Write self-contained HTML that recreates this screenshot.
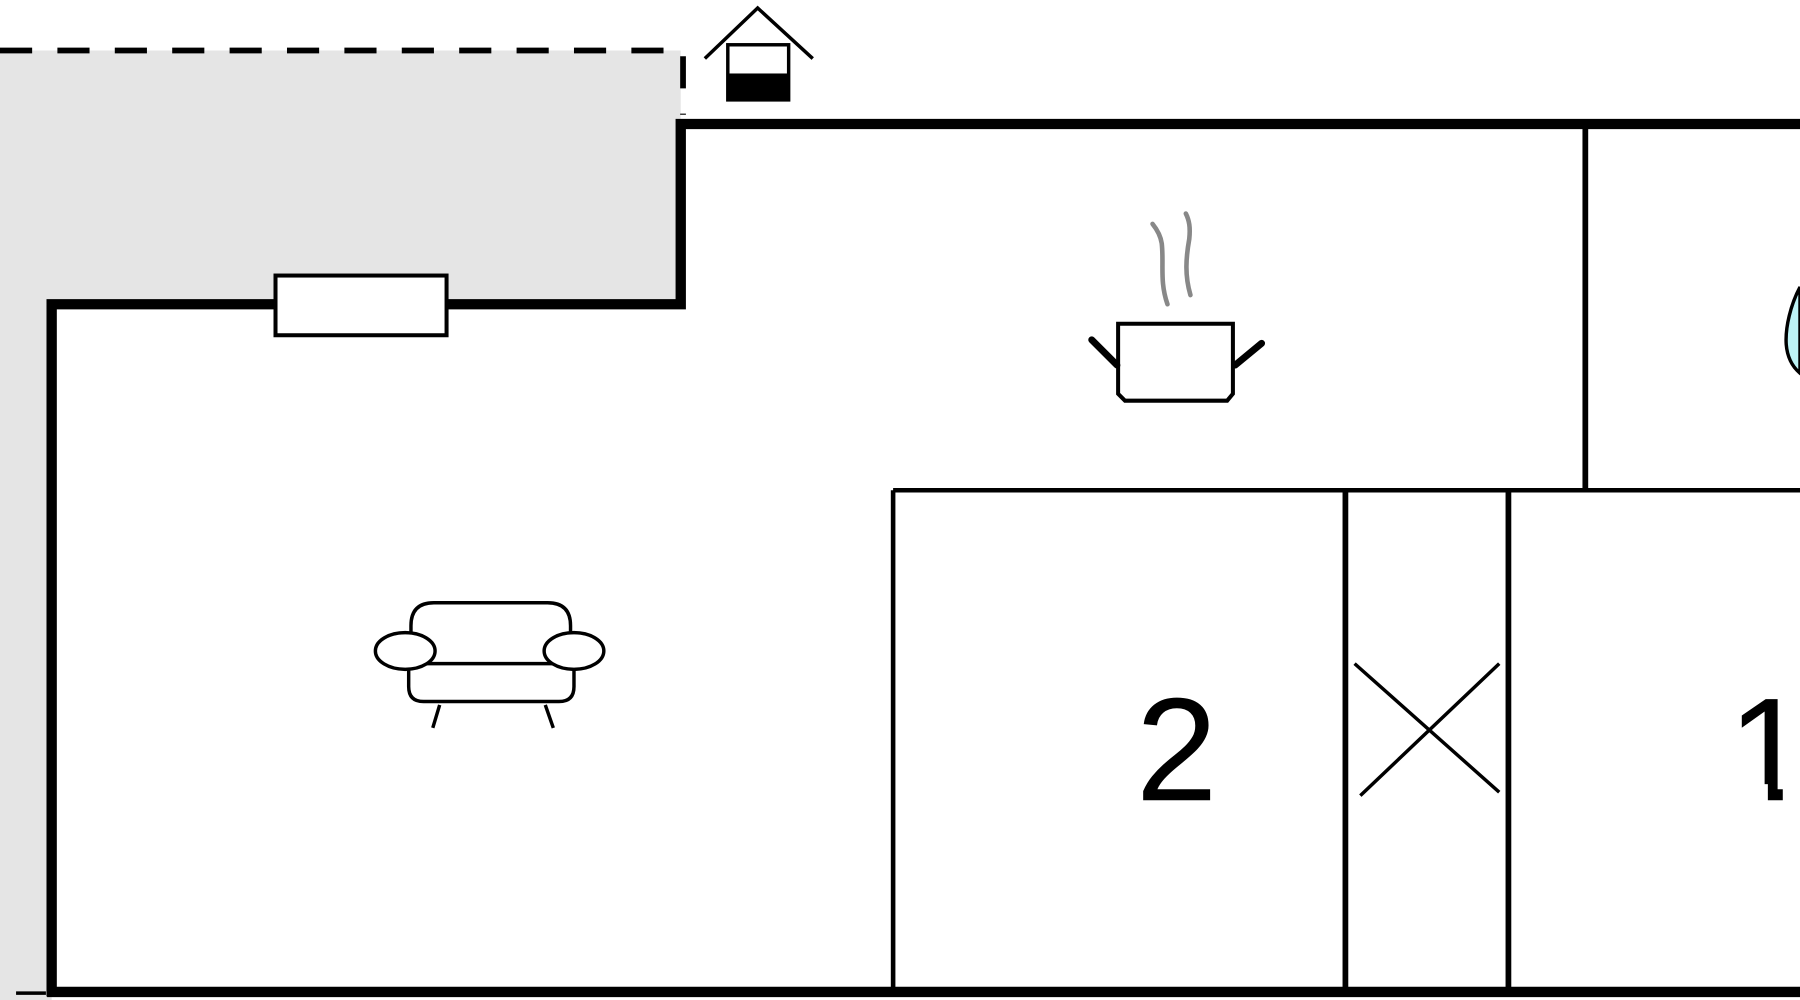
<!DOCTYPE html>
<html><head><meta charset="utf-8"><style>html,body{margin:0;padding:0;background:#fff;width:1800px;height:1000px;overflow:hidden}svg{display:block}</style></head>
<body>
<svg width="1800" height="1000" viewBox="0 0 1568 871" preserveAspectRatio="none" xmlns="http://www.w3.org/2000/svg">
<rect width="1568" height="871" fill="#fff"/>
<path d="M0 44 H593 V265 H45 V871 H0 Z" fill="#e5e5e5"/>
<path d="M0 44 H595 V100" fill="none" stroke="#000" stroke-width="5" stroke-dasharray="28 22"/>
<path d="M14 865 H40" stroke="#000" stroke-width="3"/>
<path d="M45 868 V265 H593 V108 H1568" fill="none" stroke="#000" stroke-width="9"/>
<path d="M41 864 H1568" stroke="#000" stroke-width="9"/>
<rect x="240" y="240" width="149" height="52" fill="#fff" stroke="#000" stroke-width="3.5"/>
<path d="M1381 108 V427" stroke="#000" stroke-width="5"/>
<path d="M778 427 H1568" stroke="#000" stroke-width="4"/>
<path d="M778 427 V864" stroke="#000" stroke-width="4"/>
<path d="M1172 427 V864" stroke="#000" stroke-width="5"/>
<path d="M1314 427 V864" stroke="#000" stroke-width="5"/>
<path d="M1180 578 L1306 690 M1185 693 L1306 578" stroke="#000" stroke-width="3"/>
<text x="1025" y="697" font-family="Liberation Sans, sans-serif" font-size="128" text-anchor="middle" fill="#000">2</text>
<text x="1505" y="697" font-family="Liberation Sans, sans-serif" font-size="128" fill="#000">1</text>
<rect x="1500" y="683" width="40" height="18" fill="#fff"/>
<rect x="1553" y="683" width="15" height="18" fill="#fff"/>
<path d="M614 51 L660 7 L708 51" fill="none" stroke="#000" stroke-width="3"/>
<rect x="634" y="39" width="53" height="48" fill="#fff" stroke="#000" stroke-width="3"/>
<rect x="634" y="64" width="53" height="24" fill="#000"/>
<path d="M1017 265 C1010 245,1014 230,1012 212 C1011 205,1008 200,1004 195" fill="none" stroke="#888" stroke-width="4" stroke-linecap="round"/>
<path d="M1037 257 C1032 240,1033 225,1036 208 C1037 198,1036 192,1033 186" fill="none" stroke="#888" stroke-width="4" stroke-linecap="round"/>
<path d="M974 282 H1074 V343 L1069 349 H980 L974 343 Z" fill="#fff" stroke="#000" stroke-width="3.5"/>
<path d="M951 296 L973 318" stroke="#000" stroke-width="6" stroke-linecap="round"/>
<path d="M1099 299 L1076 318" stroke="#000" stroke-width="6" stroke-linecap="round"/>
<path d="M1568 250 C1560 265,1555 285,1556 300 C1557 312,1562 320,1568 325 Z" fill="#bdf3f5" stroke="#000" stroke-width="3"/>
<path d="M358 578 V545 Q358 525 378 525 H477 Q497 525 497 545 V578" fill="#fff" stroke="#000" stroke-width="3"/>
<path d="M356 578 H500 V598 Q500 611 487 611 H369 Q356 611 356 598 Z" fill="#fff" stroke="#000" stroke-width="3"/>
<ellipse cx="353" cy="567" rx="26" ry="16" fill="#fff" stroke="#000" stroke-width="3"/>
<ellipse cx="500" cy="567" rx="26" ry="16" fill="#fff" stroke="#000" stroke-width="3"/>
<path d="M383 614 L377 634 M475 614 L482 634" stroke="#000" stroke-width="3"/>
</svg>
</body></html>
